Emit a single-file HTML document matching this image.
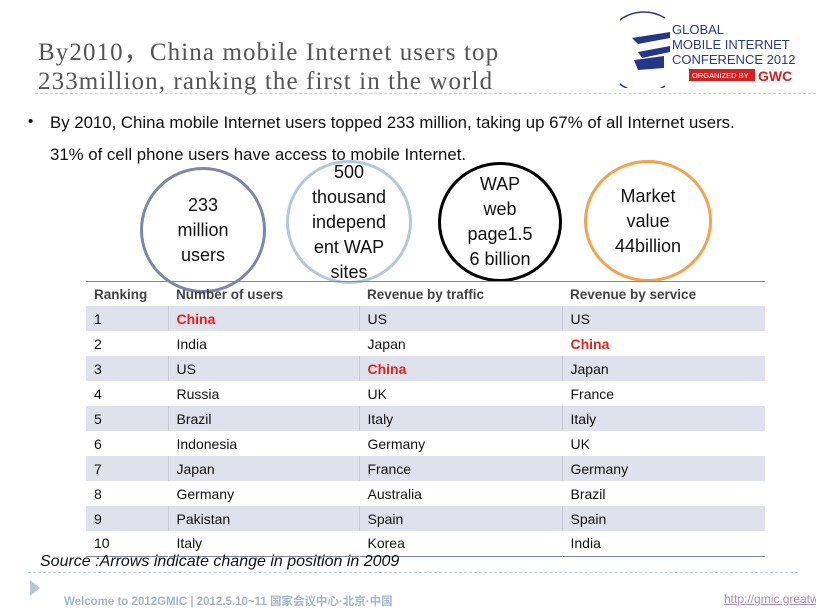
<!DOCTYPE html>
<html><head><meta charset="utf-8"><style>
body{margin:0;width:816px;height:615px;background:#fff;position:relative;overflow:hidden;font-family:"Liberation Sans",sans-serif}
.a{position:absolute;white-space:nowrap}
.title{font-family:"Liberation Serif",serif;font-size:25px;letter-spacing:1.1px;color:#555;line-height:29px;left:38px;top:38px}
.circ{position:absolute;border-radius:50%;box-sizing:border-box;display:flex;align-items:center;justify-content:center;text-align:center;font-size:18px;line-height:25px;color:#111}
table{position:absolute;left:86px;top:281px;width:679px;border-collapse:collapse;font-size:14px;border-top:1.5px solid #7c86a8;border-bottom:1.5px solid #7c86a8}
td{height:25px;padding:0 0 0 8px;box-sizing:border-box;color:#111}
th{height:24px;text-align:left;padding:0 0 0 8px;font-size:13.5px;color:#444}
tr.s td{background:#dfe1ec}
td+td{border-left:1px solid #fff}
tr.s td+td{border-left:1px solid #c8cad8}
.r{color:#e3231c;font-weight:bold}
</style></head><body>
<div class="a title">By2010，China mobile Internet users top<br>233million, ranking the first in the world</div>
<div class="a" style="left:35px;top:93px;width:781px;border-top:1.5px dashed #c6d2e2"></div>
<svg class="a" style="left:620px;top:8px" width="196" height="80">
<path d="M45 10 A40 40 0 1 0 45 78" fill="none" stroke="#2b3a8c" stroke-width="1.5"/>
<path d="M12 30 L50 24 L50 30 L18 36 Z M18 44 L50 38 L50 44 L22 50 Z M14 52 L44 48 L44 60 L18 62 Z" fill="#24358a"/>
<text x="52" y="26" font-size="13" fill="#2b3a8c" font-family="Liberation Sans">GLOBAL</text>
<text x="52" y="41" font-size="13" fill="#2b3a8c" font-family="Liberation Sans">MOBILE INTERNET</text>
<text x="52" y="56" font-size="13" fill="#2b3a8c" font-family="Liberation Sans">CONFERENCE 2012</text>
<rect x="69" y="61" width="66" height="12" fill="#d42020"/>
<text x="72" y="70" font-size="7.5" fill="#fff" font-family="Liberation Sans">ORGANIZED BY</text>
<text x="138" y="73" font-size="14" font-weight="bold" fill="#d42020" font-family="Liberation Sans">GWC</text>
</svg>
<div class="a" style="left:28px;top:113px;font-size:15px">•</div>
<div class="a" style="left:50px;top:113px;font-size:16.8px;color:#111">By 2010, China mobile Internet users topped 233 million, taking up 67% of all Internet users.</div>
<div class="a" style="left:50px;top:145px;font-size:16.8px;color:#111">31% of cell phone users have access to mobile Internet.</div>
<div class="circ" style="left:140px;top:167px;width:126px;height:126px;border:3px solid #7e86b0">233<br>million<br>users</div>
<div class="circ" style="left:286px;top:160px;width:126px;height:124px;border:3px solid #b4c8dc">500<br>thousand<br>independ<br>ent WAP<br>sites</div>
<div class="circ" style="left:438px;top:162px;width:124px;height:120px;border:3px solid #000">WAP<br>web<br>page1.5<br>6 billion</div>
<div class="circ" style="left:584px;top:160px;width:128px;height:122px;border:3px solid #f4a24c">Market<br>value<br>44billion</div>
<table>
<colgroup><col style="width:82px"><col style="width:191px"><col style="width:203px"><col style="width:203px"></colgroup>
<tr><th>Ranking</th><th>Number of users</th><th>Revenue by traffic</th><th>Revenue by service</th></tr>
<tr class="s"><td>1</td><td class="r">China</td><td>US</td><td>US</td></tr>
<tr><td>2</td><td>India</td><td>Japan</td><td class="r">China</td></tr>
<tr class="s"><td>3</td><td>US</td><td class="r">China</td><td>Japan</td></tr>
<tr><td>4</td><td>Russia</td><td>UK</td><td>France</td></tr>
<tr class="s"><td>5</td><td>Brazil</td><td>Italy</td><td>Italy</td></tr>
<tr><td>6</td><td>Indonesia</td><td>Germany</td><td>UK</td></tr>
<tr class="s"><td>7</td><td>Japan</td><td>France</td><td>Germany</td></tr>
<tr><td>8</td><td>Germany</td><td>Australia</td><td>Brazil</td></tr>
<tr class="s"><td>9</td><td>Pakistan</td><td>Spain</td><td>Spain</td></tr>
<tr><td>10</td><td>Italy</td><td>Korea</td><td>India</td></tr>
</table>
<div class="a" style="left:40px;top:553px;font-size:16px;font-style:italic;color:#111">Source :Arrows indicate change in position in 2009</div>
<div class="a" style="left:28px;top:572px;width:770px;border-top:1.5px dashed #c6d2e2"></div>
<div class="a" style="left:30px;top:580px;width:0;height:0;border-left:10px solid #b4c8dc;border-top:8px solid transparent;border-bottom:8px solid transparent"></div>
<div class="a" style="left:64px;top:593px;font-size:11.5px;font-weight:bold;color:#a2b6cf;font-family:'Liberation Sans','Noto Sans CJK SC',sans-serif">Welcome to 2012GMIC | 2012.5.10~11 国家会议中心·北京·中国</div>
<div class="a" style="left:724px;top:592px;font-size:12px;color:#a889c8;text-decoration:underline">http://gmic.greatw</div>
</body></html>
